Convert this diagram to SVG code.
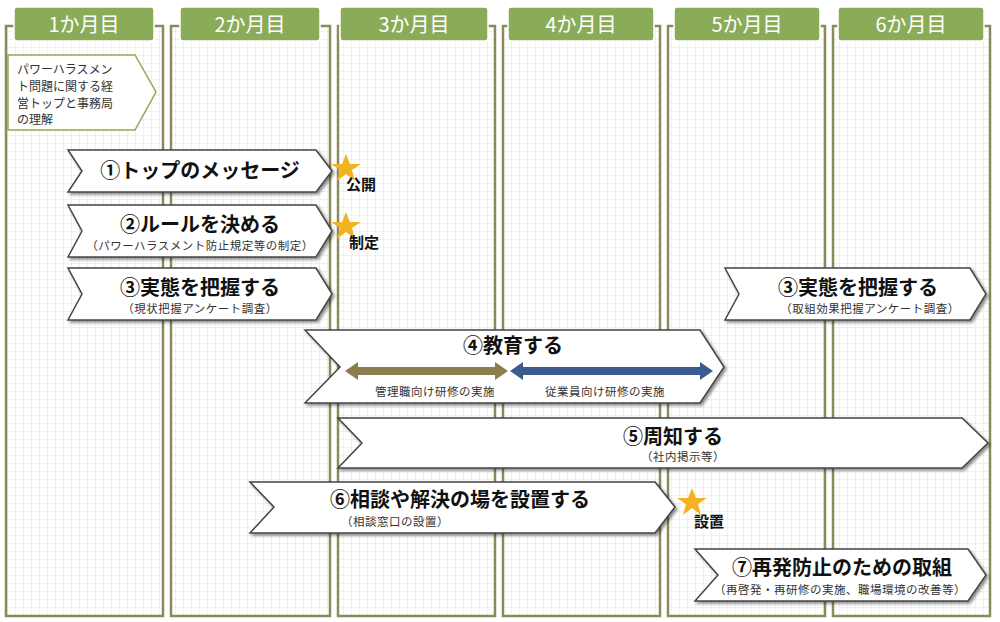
<svg xmlns="http://www.w3.org/2000/svg" width="1000" height="622" viewBox="0 0 1000 622">
<defs>
<pattern id="g" width="8" height="8" patternUnits="userSpaceOnUse"><path d="M8 0V8H0" fill="none" stroke="#dcdcd4" stroke-width="0.8"/></pattern>
<filter id="sh" x="-5%" y="-20%" width="110%" height="150%"><feDropShadow dx="2" dy="2" stdDeviation="1.5" flood-color="#000" flood-opacity="0.45"/></filter>
</defs>
<style>
.col{fill:url(#g);stroke:#8b8a5a;stroke-width:2.5}
.hd{fill:#8aac58;stroke:#fff;stroke-width:1.5}
.ht{font-family:"Noto Sans CJK JP","Noto Sans",sans-serif;font-size:20px;fill:#fff;text-anchor:middle}
.ch{fill:#fff;stroke:#444;stroke-width:1.5;filter:url(#sh)}
.t{font-family:"Noto Sans CJK JP",sans-serif;font-weight:bold;font-size:20px;fill:#111;text-anchor:middle}
.s{font-family:"Noto Sans CJK JP",sans-serif;font-size:11.5px;fill:#333;text-anchor:middle;letter-spacing:0.5px}
.lb{font-family:"Noto Sans CJK JP",sans-serif;font-weight:bold;font-size:15px;fill:#111}
.st{fill:#f3b320}
</style>
<rect width="1000" height="622" fill="#fff"/>
<g id="columns">
<rect class="col" x="6" y="26" width="157" height="590"/>
<rect class="col" x="171" y="26" width="159" height="590"/>
<rect class="col" x="338" y="26" width="157" height="590"/>
<rect class="col" x="503" y="26" width="157" height="590"/>
<rect class="col" x="668" y="26" width="157" height="590"/>
<rect class="col" x="833" y="26" width="157" height="590"/>
</g>
<g id="headers">
<rect class="hd" x="14" y="7" width="140" height="34" rx="3"/><text class="ht" x="84" y="32">1か月目</text>
<rect class="hd" x="180" y="7" width="140" height="34" rx="3"/><text class="ht" x="250" y="32">2か月目</text>
<rect class="hd" x="340" y="7" width="148" height="34" rx="3"/><text class="ht" x="414" y="32">3か月目</text>
<rect class="hd" x="508" y="7" width="146" height="34" rx="3"/><text class="ht" x="581" y="32">4か月目</text>
<rect class="hd" x="674" y="7" width="146" height="34" rx="3"/><text class="ht" x="747" y="32">5か月目</text>
<rect class="hd" x="838" y="7" width="146" height="34" rx="3"/><text class="ht" x="911" y="32">6か月目</text>
</g>
<g id="n0">
<path d="M8 55H135L156 92L135 130H8Z" fill="#fff" stroke="#8aac58" stroke-width="1.5"/>
<text font-family="Noto Sans CJK JP,sans-serif" font-size="12" fill="#333"><tspan x="17" y="74">パワーハラスメン</tspan><tspan x="17" y="91">ト問題に関する経</tspan><tspan x="17" y="108">営トップと事務局</tspan><tspan x="17" y="124">の理解</tspan></text>
</g>
<g id="n1"><path class="ch" d="M68 150H316L332 171L316 192H68L82 171Z"/><text class="t" x="200" y="178">①トップのメッセージ</text></g>
<g id="n2"><path class="ch" d="M68 205H316L332 231L316 257H68L82 231Z"/><text class="t" x="200" y="232">②ルールを決める</text><text class="s" x="200" y="250">（パワーハラスメント防止規定等の制定）</text></g>
<g id="n3"><path class="ch" d="M68 268H316L332 294L316 320H68L82 294Z"/><text class="t" x="200" y="295">③実態を把握する</text><text class="s" x="200" y="313">（現状把握アンケート調査）</text></g>
<g id="n3b"><path class="ch" d="M725 268H970L986 294L970 320H725L739 294Z"/><text class="t" x="858" y="295">③実態を把握する</text><text class="s" x="870" y="313">（取組効果把握アンケート調査）</text></g>
<g id="n4"><path class="ch" d="M305 330H700L724 367L700 403H305L340 367Z"/><text class="t" x="513" y="353">④教育する</text>
<path d="M345 371L358 362V367H495V362L508 371L495 380V375H358V380Z" fill="#8b7d4e"/>
<path d="M510 371L523 362V367H700V362L713 371L700 380V375H523V380Z" fill="#3b5b8e"/>
<text class="s" x="435" y="396">管理職向け研修の実施</text><text class="s" x="605" y="396">従業員向け研修の実施</text></g>
<g id="n5"><path class="ch" d="M338 418H962L988 443L962 468H338L362 443Z"/><text class="t" x="673" y="444">⑤周知する</text><text class="s" x="683" y="461">（社内掲示等）</text></g>
<g id="n6"><path class="ch" d="M250 482H655L675 507L655 533H250L274 507Z"/><text class="t" x="460" y="507">⑥相談や解決の場を設置する</text><text class="s" x="395" y="526">（相談窓口の設置）</text></g>
<g id="n7"><path class="ch" d="M695 549H968L986 575L968 601H695L718 575Z"/><text class="t" x="842" y="575">⑦再発防止のための取組</text><text class="s" x="840" y="594">（再啓発・再研修の実施、職場環境の改善等）</text></g>
<g id="stars">
<path class="st" transform="translate(346,168)" d="M0-14L4-4L15-4L6 2L9 13L0 6L-9 13L-6 2L-15-4L-4-4Z"/>
<path class="st" transform="translate(346,226)" d="M0-14L4-4L15-4L6 2L9 13L0 6L-9 13L-6 2L-15-4L-4-4Z"/>
<path class="st" transform="translate(692,502)" d="M0-14L4-4L15-4L6 2L9 13L0 6L-9 13L-6 2L-15-4L-4-4Z"/>
<text class="lb" x="346" y="190">公開</text><text class="lb" x="349" y="248">制定</text><text class="lb" x="694" y="527">設置</text>
</g>
<g id="connectors"/>
</svg>
